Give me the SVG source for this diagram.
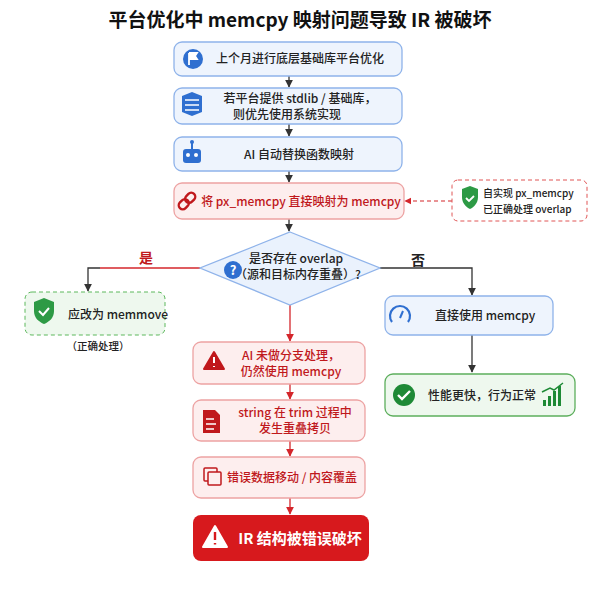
<svg xmlns="http://www.w3.org/2000/svg" width="600" height="600" viewBox="0 0 600 600">
<style>
text{font-family:"Noto Sans CJK SC","Noto Sans",sans-serif;font-weight:500;}
.blue{fill:#eef4fd;stroke:#8fb3ea;stroke-width:1.3}
.red{fill:#fdeeee;stroke:#eda3a3;stroke-width:1.3}
.t{font-size:12px;fill:#222}
.tr{font-size:12px;fill:#c0181c}
.ln{stroke:#333;stroke-width:1.3;fill:none}
.lr{stroke:#d4262b;stroke-width:1.3;fill:none}
</style>
<defs>
<marker id="ak" viewBox="0 0 10 10" refX="9" refY="5" markerWidth="6" markerHeight="6" orient="auto"><path d="M0,0L10,5L0,10z" fill="#333"/></marker>
<marker id="ar" viewBox="0 0 10 10" refX="9" refY="5" markerWidth="6" markerHeight="6" orient="auto"><path d="M0,0L10,5L0,10z" fill="#d4262b"/></marker>
</defs>
<rect width="600" height="600" fill="#fff"/>
<text x="300" y="27" text-anchor="middle" font-size="19" fill="#111" style="font-weight:bold">平台优化中 memcpy 映射问题导致 IR 被破坏</text>
<g id="connectors">
<path class="ln" d="M289,76V87" marker-end="url(#ak)"/>
<path class="ln" d="M289,124V136" marker-end="url(#ak)"/>
<path class="ln" d="M289,171V182" marker-end="url(#ak)"/>
<path class="ln" d="M289,219V231" marker-end="url(#ak)"/>
<path d="M452,201H405" stroke="#d4262b" stroke-width="1.2" stroke-dasharray="4,3" fill="none" marker-end="url(#ar)"/>
<path class="lr" d="M200,268H100"/>
<path class="ln" d="M100,268H88V291" marker-end="url(#ak)"/>
<path class="ln" d="M380,268H472V295" marker-end="url(#ak)"/>
<path class="lr" d="M290,305V341" marker-end="url(#ar)"/>
<path class="lr" d="M290,384V399" marker-end="url(#ar)"/>
<path class="lr" d="M290,441V456" marker-end="url(#ar)"/>
<path class="lr" d="M290,498V514" marker-end="url(#ar)"/>
<path class="ln" d="M472,335V372" marker-end="url(#ak)"/>
<text x="146" y="263" font-size="14" fill="#c0181c" text-anchor="middle" style="font-weight:bold">是</text>
<text x="418" y="265" font-size="14" fill="#222" text-anchor="middle" style="font-weight:bold">否</text>
</g>
<g id="n1"><rect class="blue" x="174" y="42" width="228" height="34" rx="8"/>
<circle cx="193" cy="59" r="10" fill="#2f6fd0"/><path d="M189,65V53M189,53h8l-2,3l2,3h-8" stroke="#fff" stroke-width="1.8" fill="#fff"/>
<text class="t" x="300" y="63" text-anchor="middle">上个月进行底层基础库平台优化</text></g>
<g id="n2"><rect class="blue" x="174" y="88" width="228" height="36" rx="8"/>
<path d="M182,96l10,-4l10,4v16l-10,4l-10,-4z" fill="#2f6fd0"/><path d="M185,100h14M185,105h14M185,110h14" stroke="#fff" stroke-width="1.5"/>
<text class="t" x="300" y="103" text-anchor="middle">若平台提供 stdlib / 基础库，</text>
<text class="t" x="287" y="119" text-anchor="middle">则优先使用系统实现</text></g>
<g id="n3"><rect class="blue" x="174" y="137" width="228" height="34" rx="8"/>
<rect x="183" y="149" width="18" height="14" rx="3" fill="#2f6fd0"/><line x1="192" y1="149" x2="192" y2="142" stroke="#2f6fd0" stroke-width="2"/><circle cx="192" cy="142" r="2" fill="#2f6fd0"/><circle cx="188" cy="155" r="2" fill="#fff"/><circle cx="196" cy="155" r="2" fill="#fff"/>
<text class="t" x="299" y="159" text-anchor="middle">AI 自动替换函数映射</text></g>
<g id="n4"><rect class="red" x="174" y="183" width="230" height="36" rx="8"/>
<g transform="rotate(-45 187 201)" fill="none" stroke="#c0181c" stroke-width="2.4"><rect x="177" y="197" width="11" height="8" rx="4"/><rect x="186" y="197" width="11" height="8" rx="4"/></g>
<text class="tr" x="301" y="206" text-anchor="middle">将 px_memcpy 直接映射为 memcpy</text></g>
<g id="side"><rect x="452" y="180" width="135" height="41" rx="6" fill="#fff" stroke="#e05555" stroke-dasharray="4,3"/>
<path d="M462,189l8,-3l8,3v8c0,6 -4,10 -8,12c-4,-2 -8,-6 -8,-12z" fill="#2d9a45"/><path d="M466,198l3,3l5,-5" stroke="#fff" stroke-width="1.8" fill="none"/>
<text x="483" y="197" font-size="10" fill="#222">自实现 px_memcpy</text>
<text x="483" y="213" font-size="10" fill="#222">已正确处理 overlap</text></g>
<g id="dec"><path d="M290,232L380,268L290,305L200,268Z" fill="#eaf2fd" stroke="#8fb3ea" stroke-width="1.3"/>
<circle cx="233" cy="270" r="9" fill="#2f6fd0"/><text x="233" y="275" font-size="13" fill="#fff" text-anchor="middle" style="font-weight:bold">?</text>
<text class="t" x="296" y="263" text-anchor="middle" font-size="11">是否存在 overlap</text>
<text class="t" x="298" y="279" text-anchor="middle" font-size="11">（源和目标内存重叠）?</text></g>
<g id="yes"><rect x="25" y="292" width="140" height="43" rx="7" fill="#eef8ee" stroke="#5cb85c" stroke-dasharray="4,3"/>
<path d="M34,302l10,-4l10,4v9c0,7 -5,11 -10,13c-5,-2 -10,-6 -10,-13z" fill="#2d9a45"/><path d="M39,311l4,4l6,-7" stroke="#fff" stroke-width="2" fill="none"/>
<text class="t" x="68" y="319">应改为 memmove</text>
<text x="98" y="350" font-size="10.5" fill="#222" text-anchor="middle">（正确处理）</text></g>
<g id="no"><rect class="blue" x="385" y="296" width="168" height="39" rx="8"/>
<path d="M392,322a10,10 0 1 1 16,0" stroke="#2f6fd0" stroke-width="2.2" fill="none"/><path d="M400,318l3,-7" stroke="#2f6fd0" stroke-width="2"/>
<text class="t" x="435" y="320" font-size="11.5">直接使用 memcpy</text></g>
<g id="r1"><rect class="red" x="193" y="342" width="172" height="42" rx="8"/>
<path d="M214,352l10,17h-20z" fill="#c0181c" stroke="#c0181c" stroke-width="2" stroke-linejoin="round"/><path d="M214,357v6M214,366v1" stroke="#fff" stroke-width="2"/>
<text class="tr" x="291" y="360" text-anchor="middle">AI 未做分支处理，</text>
<text class="tr" x="291" y="376" text-anchor="middle">仍然使用 memcpy</text></g>
<g id="r2"><rect class="red" x="193" y="400" width="172" height="41" rx="8"/>
<path d="M203,410h12l5,5v18h-17z" fill="#c0181c"/><path d="M206,419h8M206,424h10M206,429h8" stroke="#fff" stroke-width="1.5"/>
<text class="tr" x="295" y="417" text-anchor="middle" font-size="11.5">string 在 trim 过程中</text>
<text class="tr" x="295" y="433" text-anchor="middle" font-size="11.5">发生重叠拷贝</text></g>
<g id="r3"><rect class="red" x="193" y="457" width="172" height="41" rx="8"/>
<rect x="204" y="468" width="13" height="13" rx="1" fill="none" stroke="#c0181c" stroke-width="1.5"/><rect x="208" y="472" width="13" height="13" rx="1" fill="#fdeeee" stroke="#c0181c" stroke-width="1.5"/>
<text class="tr" x="292" y="482" text-anchor="middle" font-size="11.5">错误数据移动 / 内容覆盖</text></g>
<g id="r4"><rect x="193" y="515" width="176" height="46" rx="8" fill="#d7191d"/>
<path d="M215,526l12,21h-24z" fill="#fff" stroke="#fff" stroke-width="2" stroke-linejoin="round"/><path d="M215,532v8M215,543v1.5" stroke="#d7191d" stroke-width="2.4"/>
<text x="300" y="544" text-anchor="middle" font-size="15" fill="#fff" style="font-weight:bold">IR 结构被错误破坏</text></g>
<g id="ok"><rect x="385" y="374" width="190" height="42" rx="8" fill="#eef8ee" stroke="#5cae5c" stroke-width="1.3"/>
<circle cx="404" cy="395" r="11" fill="#1e8a36"/><path d="M398,395l4,4l8,-8" stroke="#fff" stroke-width="2.4" fill="none"/>
<text class="t" x="428" y="400">性能更快，行为正常</text>
<path d="M543,400h3v6h-3zM548,396h3v10h-3zM553,391h3v15h-3zM558,386h3v20h-3z" fill="#1e8a36"/><path d="M542,392l8,-4l4,2l9,-7" stroke="#1e8a36" stroke-width="1.5" fill="none"/></g>
</svg>
